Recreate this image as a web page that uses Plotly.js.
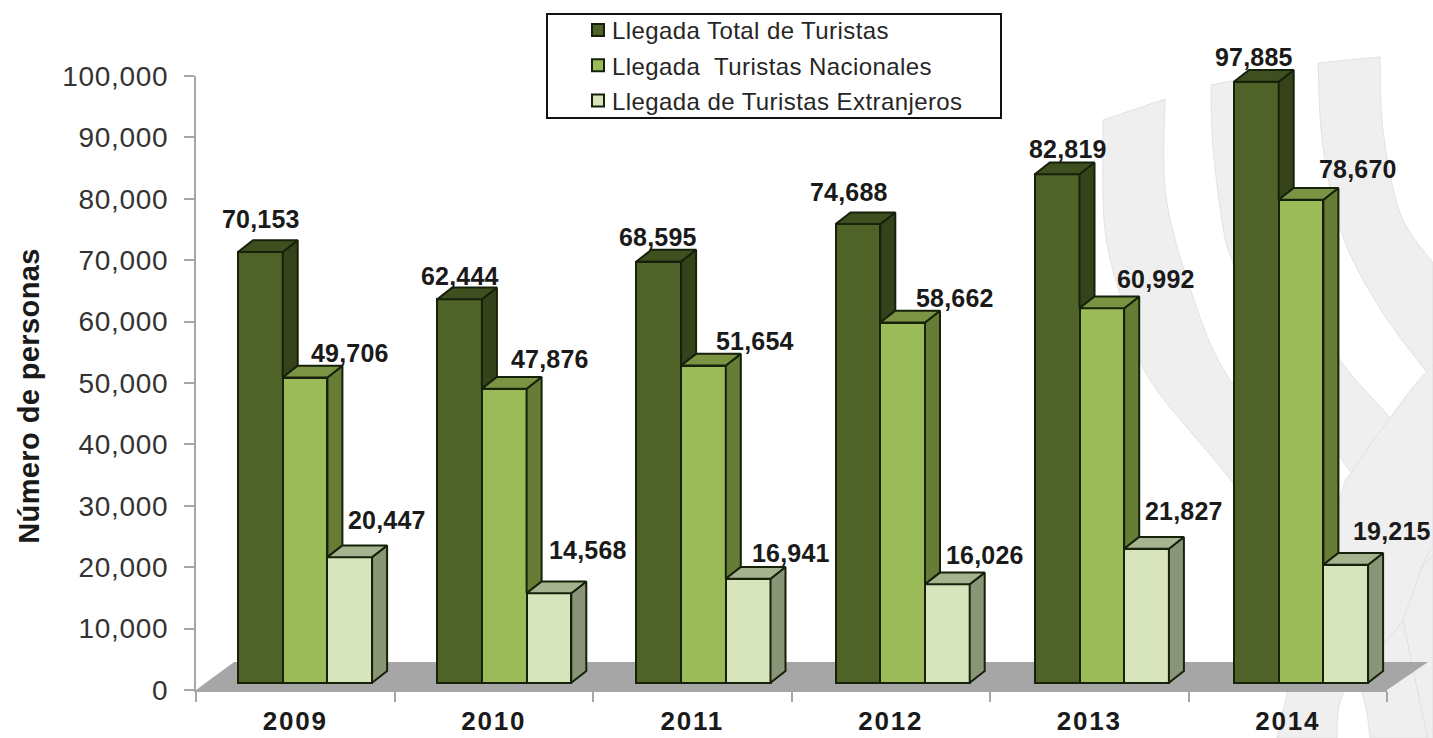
<!DOCTYPE html>
<html>
<head>
<meta charset="utf-8">
<script src="https://cdn.plot.ly/plotly-3.0.1.min.js"></script>
<style>
html,body{margin:0;padding:0;background:#fff;}
#chart{width:1433px;height:738px;}
.ytick text{letter-spacing:0.7px;}
.xtick text{letter-spacing:1.8px;}
.annotation-text{letter-spacing:0.2px;}
.annotation[data-index="18"] .annotation-text{letter-spacing:0.4px;}
.legendtext{letter-spacing:0.42px;transform:translateX(-6px);}
.cartesianlayer, .cartesianlayer *{clip-path:none !important;}
</style>
</head>
<body>
<div id="chart"></div>
<script>
// ---- data ----
const years = ["2009","2010","2011","2012","2013","2014"];
const totalTourists = [70153,62444,68595,74688,82819,97885];
const nationalTourists = [49706,47876,51654,58662,60992,78670];
const foreignTourists = [20447,14568,16941,16026,21827,19215];
const seriesNames = ["Llegada Total de Turistas","Llegada\u00a0 Turistas Nacionales","Llegada de Turistas Extranjeros"];
const yTicks = [0,10000,20000,30000,40000,50000,60000,70000,80000,90000,100000];
const yTitle = "Número de personas";

// ---- styling and geometry ----
const W=1433,H=738,L=196,R=1387,T=76,B=690;
const pxX=(R-L)/6, pxY=(B-T)/100000;
const barStart=42/pxX, barStep=199.2/pxX, barW=44.7/pxX;
const depthX=15/pxX, depthY=11.7/pxY, baseLift=7.3/pxY;
const edge="#16210a";
const fronts=["#4f6228","#9bbb59","#d8e4bc"];
const sides=["#36431a","#677d35","#8a9578"];
const tops=["#404f20","#7b9444","#a6b38f"];
const sans="Liberation Sans, Arial";
// label nudges in pixels from each bar's top centre
const nudgeX=[[1,0,-1,-9,11,-2],[45,46,52,52,54,57],[37,39,43,38,37,46]];
const nudgeY=[[33,23,25,32,25,25],[25,30,25,25,29,31],[37,43,26,29,38,34]];

const all=[totalTourists,nationalTourists,foreignTourists];
const left=(i,s)=>barStart+i*barStep+s*barW;
const traces=[];
const annotations=[];

all.forEach((vals,s)=>{
  traces.push({type:"bar",name:seriesNames[s],legendgroup:"g"+s,cliponaxis:false,
    x:vals.map((v,i)=>left(i,s)+barW/2),y:vals,base:vals.map(()=>baseLift),width:barW,
    marker:{color:fronts[s],line:{color:edge,width:2}},hoverinfo:"skip"});
});
all.forEach((vals,s)=>{
  const sx=[],sy=[],tx=[],ty=[];
  vals.forEach((v,i)=>{
    const l=left(i,s),r=l+barW,top=v+baseLift;
    const low=s<2?all[s+1][i]+baseLift:baseLift;
    sx.push(r,r+depthX,r+depthX,r,r,null);
    sy.push(low,low+depthY,top+depthY,top,low,null);
    tx.push(l,r,r+depthX,l+depthX,l,null);
    ty.push(top,top,top+depthY,top+depthY,top,null);
    annotations.push({xref:"x",yref:"y",x:l+barW/2,y:top,xshift:nudgeX[s][i],yshift:nudgeY[s][i],
      text:v.toLocaleString("en-US"),showarrow:false,xanchor:"center",yanchor:"middle",
      font:{family:sans,size:25,color:"#1a1a1a",weight:700}});
  });
  const face=(x,y,c)=>({type:"scatter",mode:"lines",x:x,y:y,fill:"toself",fillcolor:c,
    line:{color:edge,width:2},cliponaxis:false,showlegend:false,hoverinfo:"skip"});
  traces.push(face(sx,sy,sides[s]));
  traces.push(face(tx,ty,tops[s]));
});

// px to paper helpers for the decoration
const fx=x=>(x-L)/(R-L), fy=y=>(B-y)/(B-T);
const P=p=>fx(p[0]).toFixed(5)+","+fy(p[1]).toFixed(5);
const poly=pts=>"M"+pts.map(P).join(" L")+" Z";
// smooth an edge through its points (Catmull-Rom to cubic Bezier)
function smooth(pts){
  let d="";
  for(let i=0;i<pts.length-1;i++){
    const p0=pts[Math.max(i-1,0)],p1=pts[i],p2=pts[i+1],p3=pts[Math.min(i+2,pts.length-1)];
    const c1=[p1[0]+(p2[0]-p0[0])/6,p1[1]+(p2[1]-p0[1])/6];
    const c2=[p2[0]-(p3[0]-p1[0])/6,p2[1]-(p3[1]-p1[1])/6];
    d+=" C"+P(c1)+" "+P(c2)+" "+P(p2);
  }
  return d;
}
const ribbon=(a,b)=>"M"+P(a[0])+smooth(a)+" L"+P(b[0])+smooth(b)+" Z";
const ribbons=[
 ribbon([[1103,120],[1105,230],[1125,310],[1150,380],[1233,483],[1330,615],[1362,693],[1370,738]],
        [[1428,738],[1413,670],[1403,620],[1383,573],[1340,510],[1280,440],[1225,372],[1193,297],[1166,197],[1165,99]]),
 ribbon([[1211,85],[1213,147],[1223,227],[1233,263],[1265,345],[1340,457],[1383,515],[1433,590]],
        [[1433,475],[1390,418],[1340,360],[1295,280],[1276,180],[1272,73]]),
 ribbon([[1318,63],[1323,147],[1343,237],[1383,313],[1433,380]],
        [[1433,263],[1400,213],[1383,130],[1380,57]]),
 ribbon([[1277,738],[1300,640],[1340,497],[1353,470],[1390,418],[1413,387],[1433,365]],
        [[1433,545],[1422,567],[1403,620],[1345,690],[1337,738]]),
 ribbon([[1422,567],[1433,555]],[[1433,738],[1428,738],[1403,620]])
];
const shapes=ribbons.map(p=>({type:"path",xref:"paper",yref:"paper",layer:"below",path:p,
  fillcolor:"#efefef",line:{color:"#e2e2e2",width:1}}));
// floor
shapes.push({type:"path",xref:"paper",yref:"paper",layer:"below",
  path:poly([[196,690],[234,662],[1428,662],[1387,690]]),fillcolor:"#a6a6a6",line:{width:0}});
// legend frame
shapes.push({type:"rect",xref:"paper",yref:"paper",layer:"above",
  x0:fx(547),x1:fx(1001),y0:fy(118),y1:fy(14),fillcolor:"#ffffff",line:{color:"#111",width:2}});

annotations.push({xref:"paper",yref:"paper",x:fx(29),y:fy(396),text:yTitle,textangle:-90,showarrow:false,
  xanchor:"center",yanchor:"middle",font:{family:sans,size:29,color:"#1a1a1a",weight:700}});

const layout={
  width:W,height:H,margin:{l:L,r:W-R,t:T,b:H-B,pad:0,autoexpand:false},
  paper_bgcolor:"#ffffff",plot_bgcolor:"rgba(0,0,0,0)",
  barmode:"overlay",bargap:0,
  font:{family:sans},
  xaxis:{range:[0,6],tickmode:"array",tickvals:years.map((y,i)=>i+0.5),ticktext:years,
    ticks:"",showgrid:false,zeroline:false,showline:true,linecolor:"#a6a6a6",linewidth:2,
    tickfont:{family:sans,size:26,color:"#1a1a1a",weight:700},ticklabelstandoff:7,
    minor:{tickmode:"array",tickvals:[0,1,2,3,4,5,6],ticks:"outside",ticklen:10,tickwidth:2,tickcolor:"#a6a6a6",showgrid:false}},
  yaxis:{range:[0,100000],tickmode:"array",tickvals:yTicks,tickformat:",d",
    ticks:"outside",ticklen:10,tickwidth:2,tickcolor:"#a6a6a6",showgrid:false,zeroline:false,
    showline:true,linecolor:"#a6a6a6",linewidth:2,ticklabelstandoff:10,
    tickfont:{family:sans,size:28,color:"#333333"}},
  legend:{x:fx(578),xanchor:"left",y:fy(8),yanchor:"top",bgcolor:"rgba(0,0,0,0)",borderwidth:0,
    traceorder:"grouped",tracegroupgap:1,itemclick:false,itemdoubleclick:false,
    font:{family:sans,size:24,color:"#262626"}},
  shapes:shapes,annotations:annotations,showlegend:true
};
Plotly.newPlot("chart",traces,layout,{displayModeBar:false,responsive:false});
</script>
</body>
</html>
